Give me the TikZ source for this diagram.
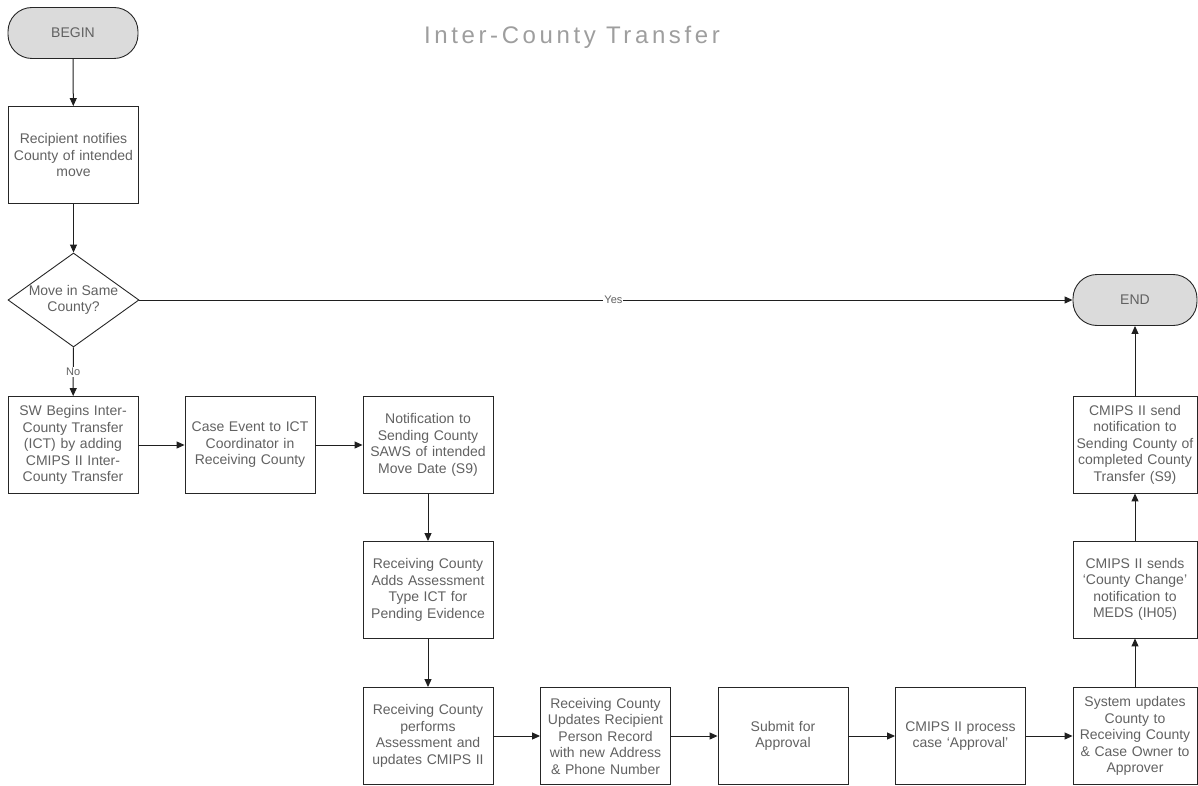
\documentclass[tikz,border=0pt]{standalone}
\usepackage{fontspec}
\setmainfont{Liberation Sans}
\newfontfamily\titlefont[LetterSpace=15]{Liberation Sans}
\usetikzlibrary{arrows.meta,shapes.geometric}

\begin{document}
\begin{tikzpicture}[x=1pt,y=-1pt,
  every node/.style={font=\fontsize{14}{16.5}\selectfont, text=black!62},
  stepbox/.style={draw=black!85, line width=0.9pt, minimum width=130pt,
    minimum height=97pt, inner sep=1.5pt, align=center, text width=126pt},
  term/.style={draw=black!85, line width=0.9pt, fill=black!14,
    rounded corners=24pt, minimum width=130pt, minimum height=51pt,
    align=center},
  decision/.style={draw=black!85, line width=0.9pt, shape=diamond,
    aspect=1.39, minimum width=131pt, minimum height=94pt, inner sep=0pt,
    align=center},
  flow/.style={draw=black!88, line width=1pt,
    -{Triangle[length=8pt,width=7pt]}},
  lbl/.style={fill=white, inner sep=1pt, font=\fontsize{11}{13}\selectfont}
]
\useasboundingbox (0,0) rectangle (1198,786);

% title
\node[font=\titlefont\fontsize{24}{27}\selectfont, text=black!38] (title)
  at (572,37) {Inter-County Transfer};

% left column
\node[term] (begin) at (73,33) {BEGIN};
\node[stepbox] (recip) at (73.5,155) {Recipient notifies\\County of intended\\move};
\node[decision] (same) at (73.5,300) {Move in Same\\County?};
\node[term, minimum width=124pt] (endn) at (1135,300) {END};

% first row
\node[stepbox] (sw) at (73,445) {SW Begins Inter-\\County Transfer\\(ICT) by adding\\CMIPS II Inter-\\County Transfer};
\node[stepbox] (cevent) at (250,445) {Case Event to ICT\\Coordinator in\\Receiving County};
\node[stepbox] (notif) at (428,445) {Notification to\\Sending County\\SAWS of intended\\Move Date (S9)};

% middle column
\node[stepbox] (adds) at (428,590) {Receiving County\\Adds Assessment\\Type ICT for\\Pending Evidence};

% bottom row
\node[stepbox] (perf) at (428,736) {Receiving County\\performs\\Assessment and\\updates CMIPS II};
\node[stepbox] (upd) at (605.5,736) {Receiving County\\Updates Recipient\\Person Record\\with new Address\\\& Phone Number};
\node[stepbox] (submit) at (783,736) {Submit for\\Approval};
\node[stepbox] (approve) at (960.5,736) {CMIPS II process\\case `Approval'};
\node[stepbox, minimum width=124pt, text width=121pt] (sysupd) at (1135,736) {System updates\\County to\\Receiving County\\\& Case Owner to\\Approver};

% right column
\node[stepbox, minimum width=124pt, text width=121pt] (chg) at (1135,589.5) {CMIPS II sends\\`County Change'\\notification to\\MEDS (IH05)};
\node[stepbox, minimum width=124pt, text width=121pt] (sendn) at (1135,444.5) {CMIPS II send\\notification to\\Sending County of\\completed County\\Transfer (S9)};

% connectors
\draw[flow] (begin) -- (recip);
\draw[flow] (recip) -- (same);
\draw[flow] (same) -- node[lbl, pos=0.5] {No} (sw);
\draw[flow] (same.east) -- node[lbl, pos=0.508] {Yes} (endn.west);
\draw[flow] (sw) -- (cevent);
\draw[flow] (cevent) -- (notif);
\draw[flow] (notif) -- (adds);
\draw[flow] (adds) -- (perf);
\draw[flow] (perf) -- (upd);
\draw[flow] (upd) -- (submit);
\draw[flow] (submit) -- (approve);
\draw[flow] (approve) -- (sysupd);
\draw[flow] (sysupd) -- (chg);
\draw[flow] (chg) -- (sendn);
\draw[flow] (sendn) -- (endn);
\end{tikzpicture}
\end{document}
